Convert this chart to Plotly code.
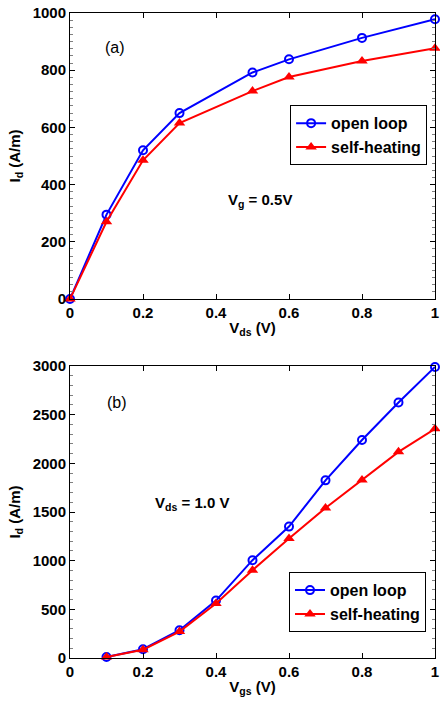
import plotly.graph_objects as go
from plotly.subplots import make_subplots

# Panel (a): Id vs Vds at Vg = 0.5 V
vds = [0, 0.1, 0.2, 0.3, 0.5, 0.6, 0.8, 1.0]
id_open_a = [0, 295, 520, 650, 792, 838, 913, 978]
id_heat_a = [0, 270, 485, 615, 727, 776, 832, 877]

# Panel (b): Id vs Vgs at Vds = 1.0 V
vgs = [0.1, 0.2, 0.3, 0.4, 0.5, 0.6, 0.7, 0.8, 0.9, 1.0]
id_open_b = [10, 90, 285, 590, 1005, 1350, 1825, 2240, 2625, 2990]
id_heat_b = [10, 85, 272, 560, 902, 1228, 1542, 1828, 2118, 2355]

x_ticks = [0, 0.2, 0.4, 0.6, 0.8, 1]
x_ticklabels = ["0", "0.2", "0.4", "0.6", "0.8", "1"]

BLUE = "rgb(0,0,255)"
RED = "rgb(255,0,0)"
FONT = "Liberation Sans, Arial, sans-serif"

fig = make_subplots(rows=2, cols=1)

def add_pair(x, y_open, y_heat, row, leg):
    fig.add_trace(go.Scatter(x=x, y=y_open, mode="lines+markers", name="open loop",
                             line=dict(color=BLUE, width=2), cliponaxis=False,
                             marker=dict(symbol="circle-open", size=8, color=BLUE,
                                         line=dict(width=2)),
                             legend=leg), row=row, col=1)
    fig.add_trace(go.Scatter(x=x, y=y_heat, mode="lines+markers", name="self-heating",
                             line=dict(color=RED, width=2), cliponaxis=False,
                             marker=dict(symbol="triangle-up", size=10, color=RED),
                             legend=leg), row=row, col=1)

add_pair(vds, id_open_a, id_heat_a, 1, "legend")
add_pair(vgs, id_open_b, id_heat_b, 2, "legend2")

axis_common = dict(showline=True, linecolor="black", linewidth=1, mirror="ticks",
                   ticks="inside", ticklen=5, tickcolor="black", showgrid=False, zeroline=False,
                   ticklabeloverflow="allow", automargin=False,
                   tickfont=dict(family=FONT, size=15, color="black", weight="bold"))

fig.update_xaxes(**axis_common, range=[0, 1], tickvals=x_ticks, ticktext=x_ticklabels,
                 domain=[0, 1])
fig.update_yaxes(**axis_common)

title_font = dict(family=FONT, size=15, color="black")
fig.update_xaxes(row=1, col=1,
                 title=dict(text="<b>V<sub>ds</sub> (V)</b>", standoff=2, font=title_font))
fig.update_xaxes(row=2, col=1,
                 title=dict(text="<b>V<sub>gs</sub> (V)</b>", standoff=2, font=title_font))
fig.update_yaxes(row=1, col=1, range=[0, 1000], dtick=200, domain=[0.5566, 1.0],
                 minor=dict(dtick=25, ticks="inside", ticklen=3, tickcolor="gray"),
                 title=dict(text="<b>I<sub>d</sub> (A/m)</b>", standoff=8, font=title_font))
fig.update_yaxes(row=2, col=1, range=[0, 3000], dtick=500, domain=[0.0, 0.4527],
                 minor=dict(dtick=100, ticks="inside", ticklen=3, tickcolor="gray"),
                 title=dict(text="<b>I<sub>d</sub> (A/m)</b>", standoff=8, font=title_font))

lab_font = dict(family=FONT, size=16, color="black")
ann_font = dict(family=FONT, size=15, color="black")
fig.add_annotation(x=0.122, y=880, xref="x", yref="y", text="(a)", showarrow=False,
                   font=lab_font)
fig.add_annotation(x=0.428, y=346, xref="x", yref="y", xanchor="left",
                   text="<b>V<sub>g</sub> = 0.5V</b>", showarrow=False, font=ann_font)
fig.add_annotation(x=0.13, y=2630, xref="x2", yref="y2", text="(b)", showarrow=False,
                   font=lab_font)
fig.add_annotation(x=0.228, y=1592, xref="x2", yref="y2", xanchor="left",
                   text="<b>V<sub>ds</sub> = 1.0 V</b>", showarrow=False, font=ann_font)

legend_common = dict(bgcolor="white", bordercolor="black", borderwidth=1,
                     font=dict(family=FONT, size=16, color="black", weight="bold"),
                     xanchor="left", yanchor="top", tracegroupgap=0,
                     itemwidth=30)

fig.update_layout(
    width=440, height=704,
    margin=dict(l=70, r=5, t=13, b=46),
    paper_bgcolor="white", plot_bgcolor="white",
    legend=dict(**legend_common, x=0.603, y=0.857),
    legend2=dict(**legend_common, x=0.60, y=0.133),
    showlegend=True,
)

fig.write_html("out.html", config={"displayModeBar": False},
               post_script="document.body.style.margin='0';document.body.style.overflow='hidden';")
